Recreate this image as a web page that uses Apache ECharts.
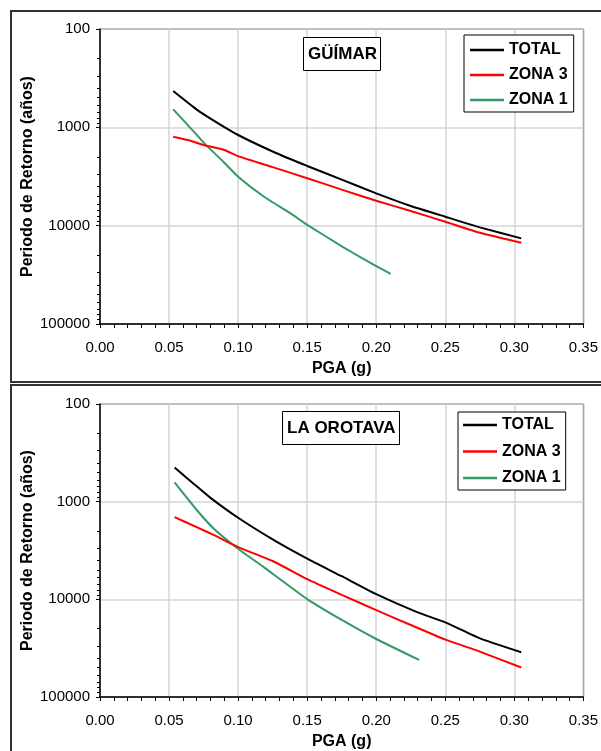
<!DOCTYPE html>
<html>
<head>
<meta charset="utf-8">
<script src="https://cdn.jsdelivr.net/npm/echarts@6/dist/echarts.min.js"></script>
<style>
html,body{margin:0;padding:0;background:#fff;}
#chart{width:601px;height:751px;}
</style>
</head>
<body>
<div id="chart"></div>
<script>
// ---------- DATA ----------
const seriesNames = ['TOTAL', 'ZONA 3', 'ZONA 1'];
const panelTitles = ['GÜÍMAR', 'LA OROTAVA'];
const xTickLabels = [0.00, 0.05, 0.10, 0.15, 0.20, 0.25, 0.30, 0.35];
const yTickLabels = [100, 1000, 10000, 100000];
const yMinorTicks = [200,300,400,500,600,700,800,900,2000,3000,4000,5000,6000,7000,8000,9000,20000,30000,40000,50000,60000,70000,80000,90000];

// GÜÍMAR
const guimarTotalPGA = [0.053, 0.070, 0.085, 0.100, 0.125, 0.150, 0.175, 0.200, 0.225, 0.250, 0.275, 0.305];
const guimarTotalT   = [428, 660, 900, 1197, 1760, 2470, 3400, 4690, 6300, 8110, 10400, 13460];
const guimarZ3PGA = [0.053, 0.0636, 0.075, 0.090, 0.100, 0.125, 0.150, 0.175, 0.200, 0.225, 0.250, 0.275, 0.305];
const guimarZ3T   = [1245, 1346, 1510, 1700, 1960, 2540, 3290, 4300, 5580, 7100, 9120, 11800, 14930];
const guimarZ1PGA = [0.053, 0.0636, 0.0756, 0.090, 0.100, 0.1188, 0.138, 0.150, 0.176, 0.190, 0.2105];
const guimarZ1T   = [656, 950, 1455, 2290, 3180, 5080, 7500, 9800, 16500, 21500, 31000];

// LA OROTAVA
const orotavaTotalPGA = [0.054, 0.068, 0.080, 0.100, 0.125, 0.150, 0.175, 0.200, 0.230, 0.250, 0.275, 0.305];
const orotavaTotalT   = [446, 659, 915, 1462, 2432, 3830, 5800, 8850, 13600, 17200, 25100, 34800];
const orotavaZ3PGA = [0.054, 0.070, 0.083, 0.100, 0.125, 0.150, 0.175, 0.200, 0.225, 0.250, 0.275, 0.305];
const orotavaZ3T   = [1442, 1823, 2218, 2917, 4050, 6220, 9000, 12890, 18300, 25880, 34280, 49900];
const orotavaZ1PGA = [0.054, 0.0708, 0.083, 0.100, 0.119, 0.150, 0.176, 0.200, 0.231];
const orotavaZ1T   = [634, 1253, 1924, 3030, 4730, 9950, 16560, 25480, 41700];

const seriesColors = ['#000000', '#ff0000', '#339966'];

// ---------- BUILD ----------
function pairs(xs, ys) { return xs.map((x, i) => [x, ys[i]]); }
const panels = [
  [pairs(guimarTotalPGA, guimarTotalT), pairs(guimarZ3PGA, guimarZ3T), pairs(guimarZ1PGA, guimarZ1T)],
  [pairs(orotavaTotalPGA, orotavaTotalT), pairs(orotavaZ3PGA, orotavaZ3T), pairs(orotavaZ1PGA, orotavaZ1T)]
];

const FONT = '"Liberation Sans", Arial, sans-serif';
const gridTops = [29, 404];
const gridHeights = [295, 294];

const grids = gridTops.map((t, i) => ({
  left: 100, top: t, width: 486, height: gridHeights[i],
  show: true, borderColor: '#000', borderWidth: 1, backgroundColor: '#fff'
}));

const xAxes = [0, 1].map(i => ({
  gridIndex: i, type: 'value', min: xTickLabels[0], max: xTickLabels[xTickLabels.length - 1], interval: 0.05,
  name: 'PGA (g)', nameLocation: 'middle', nameGap: 37, nameMoveOverlap: false,
  nameTextStyle: { fontSize: 16, fontWeight: 'bold', color: '#000', fontFamily: FONT },
  axisLine: { show: true, lineStyle: { color: '#000', width: 1.5 } },
  axisTick: { show: true, length: 4, lineStyle: { color: '#000' } },
  minorTick: { show: true, splitNumber: 5, length: 4, lineStyle: { color: '#000' } },
  axisLabel: { fontSize: 15, color: '#000', margin: 16, fontFamily: FONT, formatter: v => v.toFixed(2) },
  splitLine: { show: true, lineStyle: { color: '#d4d4d4', width: 1.5 } }
}));

const yAxes = [];
[0, 1].forEach(i => {
  yAxes.push({
    gridIndex: i, type: 'log', logBase: 10, min: yTickLabels[0], max: yTickLabels[yTickLabels.length - 1], inverse: true,
    position: 'left',
    name: 'Periodo de Retorno (años)', nameLocation: 'middle', nameGap: 64, nameMoveOverlap: false,
    nameTextStyle: { fontSize: 16, fontWeight: 'bold', color: '#000', fontFamily: FONT },
    axisLine: { show: true, lineStyle: { color: '#000', width: 1.5 } },
    axisTick: { show: true, length: 4, lineStyle: { color: '#000' } },
    axisLabel: { fontSize: 15, color: '#000', margin: 10, fontFamily: FONT, formatter: v => String(Math.round(v)) },
    splitLine: { show: true, lineStyle: { color: '#d4d4d4', width: 1.5 } }
  });
  yAxes.push({
    gridIndex: i, type: 'value', min: Math.log10(yTickLabels[0]), max: Math.log10(yTickLabels[yTickLabels.length - 1]),
    inverse: true, position: 'left', offset: 0,
    axisLine: { show: false },
    axisLabel: { show: false },
    splitLine: { show: false },
    axisTick: { show: true, length: 3, lineStyle: { color: '#000' }, customValues: yMinorTicks.map(v => Math.log10(v)) }
  });
});

const series = [];
panels.forEach((p, gi) => {
  p.forEach((data, si) => {
    series.push({
      name: seriesNames[si], type: 'line', xAxisIndex: gi, yAxisIndex: gi * 2,
      data: data, symbol: 'none', smooth: 0.15, z: 10 - si,
      lineStyle: { color: seriesColors[si], width: 2 },
      itemStyle: { color: seriesColors[si] },
      emphasis: { disabled: true }
    });
  });
});

const legendCommon = {
  data: seriesNames, orient: 'vertical', icon: 'rect', itemWidth: 34, itemHeight: 2.5,
  borderColor: '#000', borderWidth: 1, backgroundColor: '#fff', selectedMode: false,
  textStyle: { fontSize: 16, fontWeight: 'bold', color: '#000', lineHeight: 16, fontFamily: FONT }
};
const legends = [
  Object.assign({}, legendCommon, { left: 464, top: 35, itemGap: 9, padding: [7, 6, 4, 6] }),
  Object.assign({}, legendCommon, { left: 458, top: 412, itemGap: 10.5, padding: [5, 5, 4, 5] })
];

const titleCommon = {
  borderColor: '#000', borderWidth: 1, backgroundColor: '#fff', padding: [8, 4, 8, 5],
  textStyle: { fontSize: 17, fontWeight: 'bold', color: '#000', lineHeight: 18, fontFamily: FONT }
};
const titles = [
  Object.assign({}, titleCommon, { text: panelTitles[0], left: 303, top: 37 }),
  Object.assign({}, titleCommon, { text: panelTitles[1], left: 282, top: 411 })
];

const chart = echarts.init(document.getElementById('chart'), null, { renderer: 'canvas' });
chart.setOption({
  animation: false,
  backgroundColor: '#fff',
  textStyle: { fontFamily: FONT },
  title: titles,
  legend: legends,
  grid: grids,
  xAxis: xAxes,
  yAxis: yAxes,
  series: series,
  graphic: [
    { type: 'rect', shape: { x: 11, y: 11, width: 620, height: 371 }, style: { fill: 'none', stroke: '#333', lineWidth: 2 }, z: -1, silent: true },
    { type: 'rect', shape: { x: 11, y: 385, width: 620, height: 400 }, style: { fill: 'none', stroke: '#333', lineWidth: 2 }, z: -1, silent: true }
  ]
});
</script>
</body>
</html>
